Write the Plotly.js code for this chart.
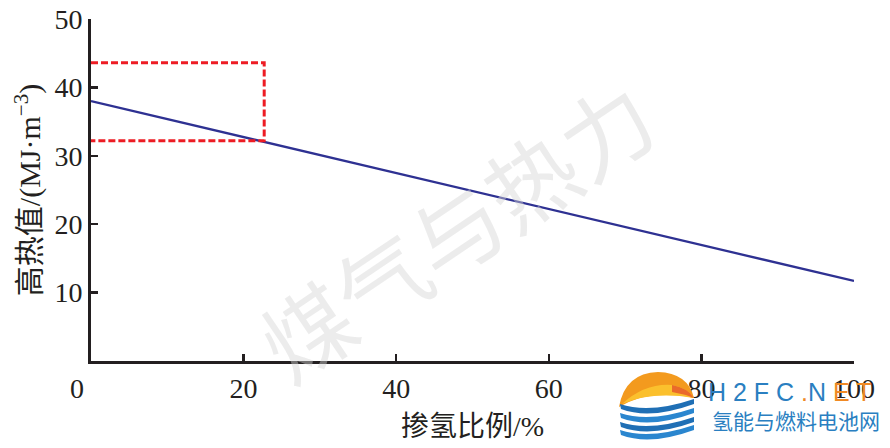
<!DOCTYPE html>
<html><head><meta charset="utf-8">
<script src="https://cdn.plot.ly/plotly-3.0.1.min.js"></script>
<style>html,body{margin:0;padding:0;background:#fff}#chart{width:890px;height:448px}</style>
</head><body><div id="chart"></div>
<script>
// data
const hydrogenRatio = [0, 100];          // 掺氢比例 /%
const heatingValue = [38.0, 11.7];       // 高热值 /(MJ·m^-3)
const boxX = [0, 22.7];                  // red dashed box, x extent
const boxY = [32.2, 43.6];               // red dashed box, y extent
const xTickVals = [0, 20, 40, 60, 80, 100];
const xTickText = ["", "20", "40", "60", "80", "100"];
const yTickVals = [10, 20, 30, 40, 50];
const yTickText = ["10", "20", "30", "40", "50"];

const serif = "Liberation Serif, Times New Roman, serif";
const axisColor = "#231f20";
const M = {l: 91, r: 36, t: 19, b: 87};
const W = 890, H = 448;
const PW = W - M.l - M.r, PH = H - M.t - M.b;
// helpers converting window pixels to paper coordinates (for decorations only)
const px = v => ((v - M.l) / PW).toFixed(4);
const py = v => ((H - M.b - v) / PH).toFixed(4);

const trace = {
  x: hydrogenRatio, y: heatingValue, type: "scatter", mode: "lines",
  line: {color: "#2e3192", width: 2.3}, hoverinfo: "none", showlegend: false
};

function wave(y0, col) {
  return {type: "path", xref: "paper", yref: "paper",
    path: `M ${px(620)} ${py(y0)} Q ${px(650)} ${py(y0 + 10)} ${px(694)} ${py(y0 - 5)} L ${px(694)} ${py(y0)} Q ${px(650)} ${py(y0 + 16)} ${px(621)} ${py(y0 + 5)} Z`,
    fillcolor: col, line: {width: 0}, layer: "above"};
}

const layout = {
  width: W, height: H,
  margin: M,
  paper_bgcolor: "#fff", plot_bgcolor: "#fff",
  xaxis: {
    range: [0, 100], tickvals: xTickVals, ticktext: xTickText,
    ticks: "inside", ticklen: 7, tickwidth: 2.5, tickcolor: axisColor,
    showline: true, linewidth: 3, linecolor: axisColor,
    showgrid: false, zeroline: false, layer: "above traces",
    tickfont: {family: serif, size: 28, color: axisColor},
    title: {text: "掺氢比例/%", font: {family: serif + ", Noto Sans CJK SC", size: 28, color: axisColor}, standoff: 14}
  },
  yaxis: {
    range: [0, 50], tickvals: yTickVals, ticktext: yTickText,
    ticks: "inside", ticklen: 7, tickwidth: 2.5, tickcolor: axisColor,
    showline: true, linewidth: 3, linecolor: axisColor,
    showgrid: false, zeroline: false, layer: "above traces",
    tickfont: {family: serif, size: 28, color: axisColor},
    title: {text: "高热值/(MJ·m<sup>−3</sup>)", font: {family: serif + ", Noto Sans CJK SC", size: 30, color: axisColor}, standoff: 5}
  },
  shapes: [
    {type: "path", xref: "x", yref: "y",
     path: `M ${boxX[0]} ${boxY[1]} L ${boxX[1]} ${boxY[1]} L ${boxX[1]} ${boxY[0]} L ${boxX[0]} ${boxY[0]}`,
     line: {color: "#ed1c24", width: 3, dash: "7px,3px"}, fillcolor: "rgba(0,0,0,0)", layer: "above"},
    // logo: sun
    {type: "path", xref: "paper", yref: "paper",
     path: `M ${px(619)} ${py(407)} Q ${px(625)} ${py(373)} ${px(658)} ${py(372)} Q ${px(688)} ${py(373)} ${px(694)} ${py(398)} Q ${px(652)} ${py(388)} ${px(619)} ${py(407)} Z`,
     fillcolor: "#f39a1e", line: {width: 0}, layer: "above"},
    {type: "path", xref: "paper", yref: "paper",
     path: `M ${px(622)} ${py(404)} Q ${px(645)} ${py(383)} ${px(672)} ${py(385)} Q ${px(688)} ${py(388)} ${px(694)} ${py(398)} Q ${px(652)} ${py(391)} ${px(622)} ${py(404)} Z`,
     fillcolor: "#fbc02d", line: {width: 0}, layer: "above"},
    {type: "path", xref: "paper", yref: "paper",
     path: `M ${px(672)} ${py(385)} Q ${px(688)} ${py(388)} ${px(694)} ${py(398)} Q ${px(684)} ${py(394)} ${px(672)} ${py(392)} Z`,
     fillcolor: "#ea6a2a", line: {width: 0}, layer: "above"},
    // logo: waves
    wave(404, "#1f6fb5"), wave(413, "#2a86cf"), wave(422, "#1f6fb5"), wave(430, "#2a86cf")
  ],
  annotations: [
    {xref: "x", yref: "paper", x: 0, y: 0, xshift: -14, yshift: -10, yanchor: "top",
     text: "0", showarrow: false, font: {family: serif, size: 28, color: axisColor}},
    {xref: "paper", yref: "paper", x: px(455), y: py(228), text: "煤气与热力", showarrow: false,
     textangle: -34, font: {family: "Noto Sans CJK SC", size: 90, color: "rgba(212,212,212,0.45)"}},
    {xref: "paper", yref: "paper", x: px(790), y: py(392), xanchor: "center", yanchor: "middle",
     text: "<span style='color:#2a7fc1'>H 2 F C </span><span style='color:#f08a24'>.</span><span style='color:#2a7fc1'>N </span><span style='color:#f08a24'>E T</span>",
     showarrow: false, font: {family: "Liberation Sans, Arial", size: 25}},
    {xref: "paper", yref: "paper", x: px(796), y: py(420), xanchor: "center", yanchor: "middle",
     text: "氢能与燃料电池网", showarrow: false, font: {family: "Noto Sans CJK SC", size: 21, color: "#2a7fc1"}}
  ]
};

Plotly.newPlot("chart", [trace], layout, {displayModeBar: false, staticPlot: true});
</script></body></html>
